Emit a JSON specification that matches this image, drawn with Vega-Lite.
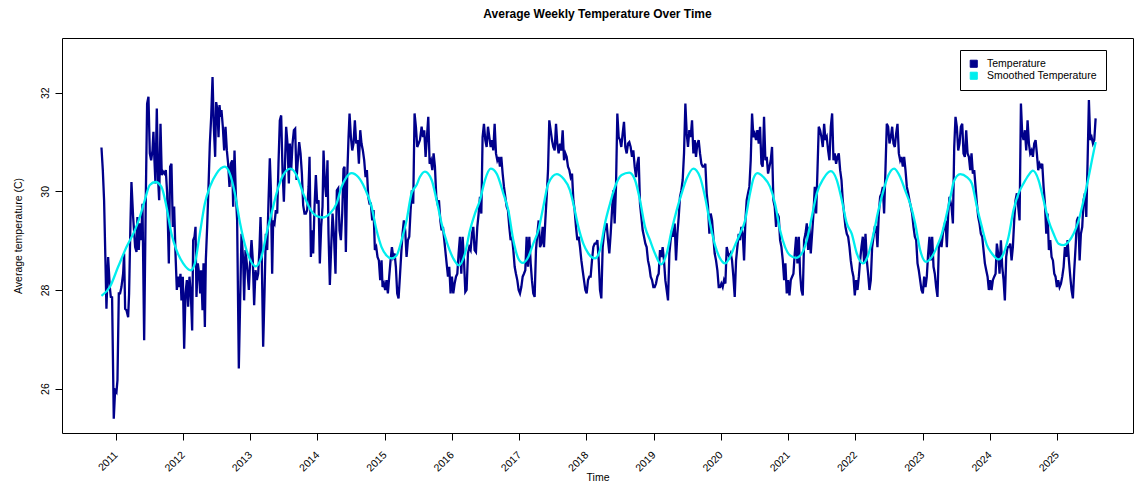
{
"$schema": "https://vega.github.io/schema/vega-lite/v6.json",
"width": 1071, "height": 395,
"autosize": {"type": "none"},
"padding": {"left": 62, "top": 38, "right": 7, "bottom": 49},
"background": "white",
"title": {"text": "Average Weekly Temperature Over Time", "fontSize": 12, "fontWeight": "bold", "font": "Liberation Sans", "anchor": "middle", "offset": 8, "baseline": "alphabetic", "color": "black"},
"config": {
  "view": {"stroke": "black", "strokeWidth": 1},
  "axis": {"domain": false, "grid": false, "ticks": true, "tickColor": "black", "tickSize": 7, "labelFont": "Liberation Sans", "labelFontSize": 10.5, "labelColor": "black", "titleFont": "Liberation Sans", "titleFontSize": 10.5, "titleFontWeight": "normal", "titleColor": "black"}
},
"encoding": {
  "x": {"field": "t", "type": "quantitative", "scale": {"domain": [2010.2, 2026.13], "nice": false, "zero": false},
        "axis": {"title": "Time", "values": [2011,2012,2013,2014,2015,2016,2017,2018,2019,2020,2021,2022,2023,2024,2025], "format": "d", "labelAngle": -45, "labelAlign": "right", "labelBaseline": "middle", "labelPadding": 13, "labelOffset": 0, "titleY": 47, "titleBaseline": "alphabetic"}},
  "y": {"field": "v", "type": "quantitative", "scale": {"domain": [25.1, 33.11], "nice": false, "zero": false},
        "axis": {"title": "Average temperature (C)", "values": [26, 28, 30, 32], "labelAngle": -90, "labelAlign": "center", "labelBaseline": "bottom", "labelPadding": 5, "titleAngle": -90, "titleX": -44, "titleY": 197.5, "titleAlign": "center", "titleBaseline": "middle"}}
},
"layer": [
{
"data": {"values": [
{"t":2010.787,"v":30.89},{"t":2010.807,"v":30.43},{"t":2010.826,"v":29.82},{"t":2010.846,"v":28.60},{"t":2010.861,"v":27.62},{"t":2010.886,"v":28.67},{"t":2010.911,"v":28.06},{"t":2010.926,"v":27.86},{"t":2010.945,"v":27.85},{"t":2010.970,"v":25.39},{"t":2010.990,"v":25.97},{"t":2011.010,"v":25.93},{"t":2011.025,"v":26.17},{"t":2011.045,"v":27.93},{"t":2011.064,"v":27.93},{"t":2011.084,"v":28.06},{"t":2011.109,"v":28.33},{"t":2011.124,"v":28.74},{"t":2011.139,"v":27.62},{"t":2011.159,"v":27.59},{"t":2011.184,"v":27.45},{"t":2011.198,"v":27.93},{"t":2011.218,"v":29.35},{"t":2011.233,"v":30.19},{"t":2011.258,"v":29.48},{"t":2011.288,"v":28.87},{"t":2011.308,"v":28.77},{"t":2011.322,"v":29.48},{"t":2011.342,"v":28.81},{"t":2011.357,"v":29.35},{"t":2011.377,"v":29.01},{"t":2011.397,"v":29.75},{"t":2011.422,"v":26.98},{"t":2011.446,"v":29.82},{"t":2011.466,"v":31.78},{"t":2011.486,"v":31.92},{"t":2011.506,"v":30.77},{"t":2011.526,"v":30.63},{"t":2011.546,"v":30.83},{"t":2011.560,"v":31.21},{"t":2011.575,"v":30.63},{"t":2011.590,"v":30.16},{"t":2011.610,"v":31.68},{"t":2011.630,"v":30.23},{"t":2011.645,"v":29.82},{"t":2011.665,"v":31.37},{"t":2011.684,"v":30.33},{"t":2011.704,"v":30.40},{"t":2011.724,"v":30.36},{"t":2011.744,"v":30.43},{"t":2011.764,"v":29.96},{"t":2011.789,"v":28.54},{"t":2011.808,"v":30.50},{"t":2011.828,"v":30.56},{"t":2011.848,"v":29.28},{"t":2011.868,"v":29.69},{"t":2011.888,"v":28.74},{"t":2011.908,"v":28.00},{"t":2011.927,"v":28.27},{"t":2011.947,"v":28.06},{"t":2011.962,"v":28.33},{"t":2011.977,"v":27.79},{"t":2011.997,"v":28.27},{"t":2012.017,"v":26.81},{"t":2012.037,"v":27.93},{"t":2012.057,"v":28.20},{"t":2012.076,"v":27.66},{"t":2012.096,"v":28.27},{"t":2012.116,"v":27.93},{"t":2012.136,"v":27.18},{"t":2012.151,"v":29.01},{"t":2012.171,"v":29.08},{"t":2012.186,"v":29.28},{"t":2012.200,"v":27.86},{"t":2012.220,"v":28.54},{"t":2012.240,"v":28.33},{"t":2012.255,"v":27.93},{"t":2012.270,"v":28.40},{"t":2012.290,"v":27.59},{"t":2012.305,"v":28.54},{"t":2012.325,"v":27.25},{"t":2012.339,"v":28.60},{"t":2012.359,"v":29.28},{"t":2012.379,"v":30.09},{"t":2012.399,"v":30.97},{"t":2012.419,"v":31.51},{"t":2012.439,"v":32.32},{"t":2012.458,"v":31.31},{"t":2012.478,"v":30.70},{"t":2012.493,"v":31.81},{"t":2012.513,"v":31.65},{"t":2012.528,"v":31.10},{"t":2012.543,"v":31.75},{"t":2012.558,"v":31.51},{"t":2012.572,"v":31.65},{"t":2012.592,"v":31.31},{"t":2012.612,"v":30.83},{"t":2012.632,"v":31.31},{"t":2012.652,"v":30.83},{"t":2012.671,"v":30.56},{"t":2012.691,"v":30.09},{"t":2012.711,"v":30.56},{"t":2012.731,"v":30.63},{"t":2012.746,"v":29.69},{"t":2012.766,"v":30.83},{"t":2012.785,"v":29.96},{"t":2012.805,"v":29.41},{"t":2012.830,"v":26.41},
{"t":2012.870,"v":29.14},{"t":2012.895,"v":28.60},{"t":2012.909,"v":27.79},{"t":2012.929,"v":28.81},{"t":2012.954,"v":28.47},{"t":2012.979,"v":28.00},{"t":2012.999,"v":28.60},{"t":2013.019,"v":29.01},{"t":2013.038,"v":28.60},{"t":2013.058,"v":27.69},{"t":2013.078,"v":28.40},{"t":2013.098,"v":28.20},{"t":2013.118,"v":28.33},{"t":2013.138,"v":28.87},{"t":2013.153,"v":29.48},{"t":2013.172,"v":28.60},{"t":2013.192,"v":26.85},{"t":2013.212,"v":27.93},{"t":2013.232,"v":29.14},{"t":2013.252,"v":28.81},{"t":2013.272,"v":29.82},{"t":2013.291,"v":30.67},{"t":2013.306,"v":30.09},{"t":2013.326,"v":28.33},{"t":2013.341,"v":29.41},{"t":2013.361,"v":29.35},{"t":2013.381,"v":29.62},{"t":2013.401,"v":29.55},{"t":2013.420,"v":30.56},{"t":2013.440,"v":31.44},{"t":2013.460,"v":31.54},{"t":2013.480,"v":30.43},{"t":2013.500,"v":29.79},{"t":2013.520,"v":30.70},{"t":2013.534,"v":31.31},{"t":2013.554,"v":30.97},{"t":2013.574,"v":30.16},{"t":2013.589,"v":30.97},{"t":2013.609,"v":30.43},{"t":2013.629,"v":30.97},{"t":2013.649,"v":31.24},{"t":2013.668,"v":31.27},{"t":2013.688,"v":30.23},{"t":2013.708,"v":30.63},{"t":2013.728,"v":31.00},{"t":2013.748,"v":30.77},{"t":2013.768,"v":30.36},{"t":2013.787,"v":29.72},{"t":2013.807,"v":29.55},{"t":2013.827,"v":29.55},{"t":2013.847,"v":29.62},{"t":2013.867,"v":30.09},{"t":2013.882,"v":30.70},{"t":2013.902,"v":28.67},{"t":2013.921,"v":29.21},{"t":2013.936,"v":28.74},{"t":2013.956,"v":29.69},{"t":2013.976,"v":30.33},{"t":2013.996,"v":29.75},{"t":2014.016,"v":29.82},{"t":2014.035,"v":28.54},{"t":2014.055,"v":29.28},{"t":2014.075,"v":29.69},{"t":2014.090,"v":30.83},{"t":2014.110,"v":30.16},{"t":2014.130,"v":29.89},{"t":2014.149,"v":30.63},{"t":2014.164,"v":29.14},{"t":2014.184,"v":28.10},{"t":2014.204,"v":28.87},{"t":2014.224,"v":29.55},{"t":2014.244,"v":29.14},{"t":2014.268,"v":28.33},{"t":2014.288,"v":30.02},{"t":2014.308,"v":30.06},{"t":2014.328,"v":29.21},{"t":2014.348,"v":29.01},{"t":2014.368,"v":29.55},{"t":2014.387,"v":30.46},{"t":2014.402,"v":30.50},{"t":2014.422,"v":28.77},{"t":2014.442,"v":30.29},{"t":2014.462,"v":31.10},{"t":2014.477,"v":31.58},{"t":2014.497,"v":31.10},{"t":2014.517,"v":30.83},{"t":2014.536,"v":30.97},{"t":2014.556,"v":31.44},{"t":2014.576,"v":30.97},{"t":2014.596,"v":31.04},{"t":2014.616,"v":30.56},{"t":2014.636,"v":31.24},{"t":2014.655,"v":30.97},{"t":2014.675,"v":30.83},{"t":2014.695,"v":30.63},{"t":2014.715,"v":30.29},{"t":2014.735,"v":30.43},{"t":2014.755,"v":29.89},{"t":2014.774,"v":29.75},{"t":2014.794,"v":29.75},{"t":2014.814,"v":29.41},{"t":2014.834,"v":29.62},{"t":2014.854,"v":28.81},{"t":2014.874,"v":28.87},{"t":2014.893,"v":28.67},{"t":2014.913,"v":28.60},{"t":2014.933,"v":28.20},{"t":2014.953,"v":28.60},{"t":2014.968,"v":28.06},{"t":2014.988,"v":28.13},{"t":2015.007,"v":28.00},{"t":2015.027,"v":28.20},{"t":2015.047,"v":27.93},{"t":2015.067,"v":28.27},{"t":2015.087,"v":28.60},{"t":2015.107,"v":28.87},{"t":2015.127,"v":28.67},{"t":2015.147,"v":28.74},{"t":2015.166,"v":28.47},{"t":2015.186,"v":27.93},{"t":2015.206,"v":27.83},{"t":2015.226,"v":28.27},{"t":2015.246,"v":28.74},{"t":2015.265,"v":29.14},{"t":2015.285,"v":29.41},{"t":2015.305,"v":29.21},{"t":2015.325,"v":28.67},{"t":2015.345,"v":29.01},{"t":2015.365,"v":29.08},{"t":2015.385,"v":29.62},{"t":2015.404,"v":30.02},{"t":2015.424,"v":29.75},{"t":2015.444,"v":31.58},{"t":2015.464,"v":31.31},{"t":2015.484,"v":30.90},{"t":2015.504,"v":30.97},
{"t":2015.524,"v":31.04},{"t":2015.549,"v":31.31},{"t":2015.569,"v":31.10},{"t":2015.588,"v":31.24},{"t":2015.608,"v":30.70},{"t":2015.628,"v":31.10},{"t":2015.648,"v":31.51},{"t":2015.668,"v":30.56},{"t":2015.688,"v":30.63},{"t":2015.708,"v":30.43},{"t":2015.727,"v":30.77},{"t":2015.747,"v":30.50},{"t":2015.767,"v":29.89},{"t":2015.787,"v":29.75},{"t":2015.807,"v":29.82},{"t":2015.827,"v":29.41},{"t":2015.846,"v":29.21},{"t":2015.866,"v":29.28},{"t":2015.886,"v":29.01},{"t":2015.906,"v":28.74},{"t":2015.921,"v":28.54},{"t":2015.941,"v":28.27},{"t":2015.960,"v":28.47},{"t":2015.980,"v":27.93},{"t":2016.000,"v":28.27},{"t":2016.020,"v":27.93},{"t":2016.040,"v":28.13},{"t":2016.060,"v":28.27},{"t":2016.080,"v":28.33},{"t":2016.099,"v":28.74},{"t":2016.119,"v":29.08},{"t":2016.139,"v":28.33},{"t":2016.159,"v":29.08},{"t":2016.179,"v":28.60},{"t":2016.199,"v":27.96},{"t":2016.218,"v":28.00},{"t":2016.238,"v":28.74},{"t":2016.258,"v":28.87},{"t":2016.278,"v":28.81},{"t":2016.298,"v":29.14},{"t":2016.318,"v":29.28},{"t":2016.337,"v":28.81},{"t":2016.357,"v":28.77},{"t":2016.377,"v":29.28},{"t":2016.397,"v":29.55},{"t":2016.417,"v":29.89},{"t":2016.437,"v":29.55},{"t":2016.456,"v":31.10},{"t":2016.476,"v":31.37},{"t":2016.496,"v":31.04},{"t":2016.516,"v":30.90},{"t":2016.536,"v":31.31},{"t":2016.556,"v":31.10},{"t":2016.576,"v":30.90},{"t":2016.595,"v":31.04},{"t":2016.615,"v":30.83},{"t":2016.635,"v":31.37},{"t":2016.655,"v":30.77},{"t":2016.675,"v":30.63},{"t":2016.695,"v":30.70},{"t":2016.714,"v":30.50},{"t":2016.734,"v":30.70},{"t":2016.754,"v":30.36},{"t":2016.774,"v":30.09},{"t":2016.794,"v":29.89},{"t":2016.814,"v":29.69},{"t":2016.833,"v":29.62},{"t":2016.853,"v":29.28},{"t":2016.873,"v":29.01},{"t":2016.893,"v":29.08},{"t":2016.913,"v":28.81},{"t":2016.933,"v":28.47},{"t":2016.952,"v":28.33},{"t":2016.972,"v":28.20},{"t":2016.992,"v":28.00},{"t":2017.012,"v":27.93},{"t":2017.032,"v":28.06},{"t":2017.052,"v":28.27},{"t":2017.071,"v":28.33},{"t":2017.091,"v":28.40},{"t":2017.111,"v":29.08},{"t":2017.131,"v":28.47},{"t":2017.151,"v":29.08},{"t":2017.171,"v":28.54},{"t":2017.190,"v":28.20},{"t":2017.210,"v":27.93},{"t":2017.230,"v":27.86},{"t":2017.250,"v":28.81},{"t":2017.270,"v":29.14},{"t":2017.290,"v":29.41},{"t":2017.310,"v":28.87},{"t":2017.329,"v":28.94},{"t":2017.349,"v":29.28},{"t":2017.369,"v":28.87},{"t":2017.389,"v":29.41},{"t":2017.409,"v":29.89},{"t":2017.429,"v":30.43},{"t":2017.448,"v":31.44},{"t":2017.468,"v":31.24},{"t":2017.488,"v":31.04},{"t":2017.508,"v":30.90},{"t":2017.528,"v":30.83},{"t":2017.548,"v":31.37},{"t":2017.567,"v":30.97},{"t":2017.587,"v":30.77},{"t":2017.607,"v":30.97},{"t":2017.627,"v":30.83},{"t":2017.647,"v":31.24},{"t":2017.667,"v":30.63},{"t":2017.687,"v":30.77},{"t":2017.706,"v":30.70},{"t":2017.726,"v":30.50},{"t":2017.746,"v":30.43},{"t":2017.766,"v":30.29},{"t":2017.786,"v":30.36},{"t":2017.806,"v":29.82},{"t":2017.825,"v":29.62},{"t":2017.845,"v":29.28},{"t":2017.865,"v":29.01},{"t":2017.885,"v":29.08},{"t":2017.905,"v":28.87},{"t":2017.925,"v":28.60},{"t":2017.944,"v":28.40},{"t":2017.964,"v":28.20},{"t":2017.984,"v":28.00},{"t":2018.004,"v":27.93},{"t":2018.024,"v":28.20},{"t":2018.044,"v":28.27},{"t":2018.063,"v":28.27},{"t":2018.083,"v":28.60},{"t":2018.103,"v":28.87},{"t":2018.123,"v":28.94},{"t":2018.143,"v":28.94},{"t":2018.163,"v":29.01},{"t":2018.183,"v":28.60},
{"t":2018.202,"v":28.00},{"t":2018.222,"v":27.83},{"t":2018.242,"v":28.87},{"t":2018.262,"v":29.14},{"t":2018.281,"v":29.28},{"t":2018.301,"v":29.35},{"t":2018.321,"v":29.01},{"t":2018.341,"v":28.74},{"t":2018.361,"v":29.14},{"t":2018.381,"v":29.62},{"t":2018.400,"v":30.02},{"t":2018.420,"v":29.35},{"t":2018.440,"v":30.09},{"t":2018.460,"v":31.58},{"t":2018.480,"v":31.10},{"t":2018.500,"v":31.04},{"t":2018.519,"v":30.90},{"t":2018.539,"v":31.17},{"t":2018.559,"v":31.41},{"t":2018.579,"v":30.90},{"t":2018.599,"v":30.77},{"t":2018.619,"v":30.97},{"t":2018.638,"v":31.00},{"t":2018.658,"v":30.90},{"t":2018.678,"v":30.70},{"t":2018.698,"v":30.83},{"t":2018.718,"v":30.50},{"t":2018.738,"v":30.29},{"t":2018.757,"v":30.56},{"t":2018.777,"v":30.70},{"t":2018.797,"v":29.75},{"t":2018.817,"v":29.48},{"t":2018.837,"v":29.21},{"t":2018.857,"v":29.08},{"t":2018.877,"v":28.94},{"t":2018.896,"v":28.87},{"t":2018.916,"v":28.60},{"t":2018.936,"v":28.47},{"t":2018.956,"v":28.27},{"t":2018.976,"v":28.20},{"t":2018.996,"v":28.06},{"t":2019.015,"v":28.06},{"t":2019.035,"v":28.13},{"t":2019.055,"v":28.27},{"t":2019.075,"v":28.33},{"t":2019.095,"v":28.81},{"t":2019.115,"v":28.67},{"t":2019.134,"v":28.87},{"t":2019.154,"v":28.60},{"t":2019.174,"v":28.20},{"t":2019.194,"v":28.00},{"t":2019.214,"v":27.79},{"t":2019.234,"v":28.74},{"t":2019.253,"v":29.01},{"t":2019.273,"v":29.21},{"t":2019.293,"v":29.08},{"t":2019.313,"v":29.35},{"t":2019.333,"v":28.60},{"t":2019.353,"v":29.14},{"t":2019.373,"v":29.48},{"t":2019.392,"v":29.89},{"t":2019.412,"v":30.02},{"t":2019.432,"v":30.23},{"t":2019.452,"v":30.77},{"t":2019.472,"v":31.78},{"t":2019.492,"v":31.17},{"t":2019.511,"v":30.90},{"t":2019.531,"v":31.24},{"t":2019.551,"v":31.10},{"t":2019.571,"v":31.44},{"t":2019.591,"v":30.77},{"t":2019.611,"v":31.04},{"t":2019.630,"v":30.70},{"t":2019.650,"v":30.97},{"t":2019.670,"v":31.04},{"t":2019.690,"v":30.77},{"t":2019.710,"v":30.56},{"t":2019.730,"v":30.50},{"t":2019.750,"v":30.50},{"t":2019.769,"v":30.56},{"t":2019.789,"v":29.96},{"t":2019.809,"v":29.69},{"t":2019.829,"v":29.14},{"t":2019.849,"v":29.55},{"t":2019.869,"v":29.41},{"t":2019.888,"v":29.08},{"t":2019.908,"v":28.74},{"t":2019.928,"v":28.60},{"t":2019.948,"v":28.40},{"t":2019.968,"v":28.06},{"t":2019.988,"v":28.06},{"t":2020.007,"v":28.13},{"t":2020.027,"v":28.06},{"t":2020.047,"v":28.20},{"t":2020.067,"v":28.13},{"t":2020.087,"v":28.87},{"t":2020.107,"v":28.74},{"t":2020.126,"v":28.67},{"t":2020.146,"v":28.74},{"t":2020.166,"v":28.60},{"t":2020.186,"v":28.27},{"t":2020.206,"v":27.86},{"t":2020.226,"v":28.60},{"t":2020.245,"v":28.87},{"t":2020.265,"v":29.14},{"t":2020.285,"v":29.01},{"t":2020.305,"v":29.28},{"t":2020.325,"v":29.14},{"t":2020.345,"v":28.60},{"t":2020.365,"v":29.41},{"t":2020.384,"v":29.82},{"t":2020.404,"v":29.96},{"t":2020.424,"v":30.09},{"t":2020.444,"v":30.63},{"t":2020.464,"v":31.58},{"t":2020.484,"v":31.10},{"t":2020.503,"v":31.17},{"t":2020.523,"v":31.04},{"t":2020.543,"v":31.24},{"t":2020.563,"v":30.97},{"t":2020.583,"v":31.31},{"t":2020.603,"v":30.56},{"t":2020.622,"v":30.50},{"t":2020.642,"v":31.51},{"t":2020.662,"v":30.63},{"t":2020.682,"v":30.70},{"t":2020.702,"v":30.36},{"t":2020.722,"v":30.50},{"t":2020.742,"v":30.63},{"t":2020.761,"v":30.90},{"t":2020.781,"v":29.82},{"t":2020.801,"v":29.69},{"t":2020.821,"v":29.28},{"t":2020.841,"v":29.55},{"t":2020.861,"v":29.48},
{"t":2020.881,"v":29.01},{"t":2020.901,"v":28.87},{"t":2020.921,"v":28.60},{"t":2020.941,"v":28.20},{"t":2020.960,"v":28.54},{"t":2020.980,"v":27.93},{"t":2021.000,"v":28.20},{"t":2021.020,"v":27.89},{"t":2021.040,"v":28.20},{"t":2021.060,"v":28.27},{"t":2021.079,"v":28.33},{"t":2021.099,"v":28.74},{"t":2021.119,"v":29.08},{"t":2021.139,"v":28.54},{"t":2021.159,"v":29.08},{"t":2021.179,"v":28.33},{"t":2021.198,"v":28.00},{"t":2021.218,"v":27.89},{"t":2021.238,"v":29.01},{"t":2021.258,"v":29.14},{"t":2021.278,"v":29.35},{"t":2021.298,"v":28.81},{"t":2021.317,"v":29.28},{"t":2021.337,"v":28.74},{"t":2021.357,"v":29.14},{"t":2021.377,"v":29.55},{"t":2021.397,"v":30.09},{"t":2021.417,"v":29.55},{"t":2021.437,"v":30.43},{"t":2021.456,"v":31.31},{"t":2021.476,"v":31.24},{"t":2021.496,"v":31.10},{"t":2021.516,"v":30.90},{"t":2021.536,"v":31.37},{"t":2021.556,"v":31.04},{"t":2021.575,"v":31.10},{"t":2021.595,"v":30.83},{"t":2021.615,"v":30.63},{"t":2021.635,"v":31.31},{"t":2021.655,"v":31.58},{"t":2021.675,"v":30.63},{"t":2021.694,"v":30.77},{"t":2021.714,"v":30.56},{"t":2021.734,"v":30.70},{"t":2021.754,"v":30.77},{"t":2021.774,"v":30.43},{"t":2021.794,"v":30.23},{"t":2021.813,"v":29.82},{"t":2021.833,"v":29.55},{"t":2021.853,"v":29.28},{"t":2021.873,"v":29.14},{"t":2021.893,"v":29.08},{"t":2021.913,"v":28.87},{"t":2021.932,"v":28.60},{"t":2021.952,"v":28.40},{"t":2021.972,"v":28.27},{"t":2021.992,"v":27.89},{"t":2022.012,"v":28.20},{"t":2022.032,"v":28.00},{"t":2022.052,"v":28.27},{"t":2022.071,"v":28.60},{"t":2022.091,"v":28.87},{"t":2022.111,"v":29.08},{"t":2022.131,"v":28.54},{"t":2022.151,"v":29.14},{"t":2022.171,"v":28.60},{"t":2022.190,"v":28.33},{"t":2022.210,"v":28.00},{"t":2022.230,"v":28.20},{"t":2022.250,"v":28.87},{"t":2022.270,"v":29.08},{"t":2022.290,"v":29.28},{"t":2022.309,"v":29.28},{"t":2022.329,"v":28.87},{"t":2022.349,"v":29.55},{"t":2022.369,"v":29.89},{"t":2022.389,"v":29.96},{"t":2022.409,"v":30.09},{"t":2022.428,"v":29.55},{"t":2022.448,"v":30.43},{"t":2022.468,"v":31.37},{"t":2022.488,"v":31.31},{"t":2022.508,"v":30.97},{"t":2022.528,"v":31.10},{"t":2022.548,"v":31.31},{"t":2022.567,"v":30.97},{"t":2022.587,"v":30.90},{"t":2022.607,"v":31.17},{"t":2022.627,"v":31.37},{"t":2022.647,"v":30.77},{"t":2022.667,"v":30.63},{"t":2022.686,"v":30.70},{"t":2022.706,"v":30.50},{"t":2022.726,"v":30.70},{"t":2022.746,"v":30.43},{"t":2022.766,"v":30.09},{"t":2022.786,"v":29.96},{"t":2022.805,"v":29.82},{"t":2022.825,"v":29.69},{"t":2022.845,"v":29.55},{"t":2022.865,"v":29.28},{"t":2022.885,"v":29.08},{"t":2022.905,"v":29.01},{"t":2022.925,"v":28.54},{"t":2022.944,"v":28.40},{"t":2022.964,"v":28.20},{"t":2022.984,"v":28.00},{"t":2023.004,"v":27.93},{"t":2023.024,"v":28.27},{"t":2023.044,"v":28.06},{"t":2023.063,"v":28.27},{"t":2023.083,"v":28.74},{"t":2023.103,"v":29.08},{"t":2023.123,"v":28.60},{"t":2023.143,"v":29.08},{"t":2023.163,"v":28.47},{"t":2023.182,"v":28.33},{"t":2023.202,"v":28.06},{"t":2023.222,"v":27.86},{"t":2023.242,"v":28.87},{"t":2023.262,"v":29.01},{"t":2023.282,"v":28.87},{"t":2023.301,"v":29.14},{"t":2023.321,"v":29.28},{"t":2023.341,"v":29.41},{"t":2023.361,"v":28.87},{"t":2023.381,"v":29.55},{"t":2023.401,"v":29.89},
{"t":2023.431,"v":29.69},{"t":2023.451,"v":29.35},{"t":2023.471,"v":30.90},{"t":2023.490,"v":31.51},{"t":2023.510,"v":31.31},{"t":2023.530,"v":30.83},{"t":2023.550,"v":30.97},{"t":2023.570,"v":31.31},{"t":2023.590,"v":31.37},{"t":2023.609,"v":30.77},{"t":2023.629,"v":30.70},{"t":2023.649,"v":31.24},{"t":2023.669,"v":30.77},{"t":2023.689,"v":30.70},{"t":2023.709,"v":30.43},{"t":2023.728,"v":30.77},{"t":2023.748,"v":30.36},{"t":2023.768,"v":30.43},{"t":2023.788,"v":30.09},{"t":2023.808,"v":29.75},{"t":2023.828,"v":29.48},{"t":2023.847,"v":29.35},{"t":2023.867,"v":29.14},{"t":2023.887,"v":29.08},{"t":2023.907,"v":28.81},{"t":2023.927,"v":28.54},{"t":2023.947,"v":28.40},{"t":2023.967,"v":28.27},{"t":2023.986,"v":28.00},{"t":2024.006,"v":28.20},{"t":2024.026,"v":28.00},{"t":2024.046,"v":28.20},{"t":2024.066,"v":28.27},{"t":2024.086,"v":28.33},{"t":2024.105,"v":28.94},{"t":2024.125,"v":28.74},{"t":2024.145,"v":28.33},{"t":2024.165,"v":29.01},{"t":2024.185,"v":28.47},{"t":2024.205,"v":28.20},{"t":2024.224,"v":27.79},{"t":2024.244,"v":28.67},{"t":2024.264,"v":28.87},{"t":2024.284,"v":28.87},{"t":2024.304,"v":28.94},{"t":2024.324,"v":28.60},{"t":2024.343,"v":28.87},{"t":2024.363,"v":29.41},{"t":2024.383,"v":29.82},{"t":2024.403,"v":29.96},{"t":2024.423,"v":29.69},{"t":2024.443,"v":29.41},{"t":2024.463,"v":31.78},{"t":2024.482,"v":31.17},{"t":2024.502,"v":31.04},{"t":2024.522,"v":31.24},{"t":2024.542,"v":30.83},{"t":2024.562,"v":31.44},{"t":2024.582,"v":30.97},{"t":2024.601,"v":30.77},{"t":2024.621,"v":30.83},{"t":2024.641,"v":30.70},{"t":2024.661,"v":30.97},{"t":2024.681,"v":31.04},{"t":2024.700,"v":30.77},{"t":2024.720,"v":30.43},{"t":2024.740,"v":30.56},{"t":2024.760,"v":30.50},{"t":2024.780,"v":30.56},{"t":2024.800,"v":30.09},{"t":2024.820,"v":29.75},{"t":2024.840,"v":29.14},{"t":2024.859,"v":29.55},{"t":2024.879,"v":28.81},{"t":2024.899,"v":29.01},{"t":2024.919,"v":28.67},{"t":2024.939,"v":28.60},{"t":2024.959,"v":28.33},{"t":2024.978,"v":28.27},{"t":2024.998,"v":28.06},{"t":2025.018,"v":28.20},{"t":2025.038,"v":28.06},{"t":2025.058,"v":28.13},{"t":2025.078,"v":28.27},{"t":2025.098,"v":28.47},{"t":2025.117,"v":28.87},{"t":2025.137,"v":28.67},{"t":2025.157,"v":29.01},{"t":2025.177,"v":28.60},{"t":2025.197,"v":28.27},{"t":2025.216,"v":28.00},{"t":2025.236,"v":27.83},{"t":2025.256,"v":28.40},{"t":2025.276,"v":28.87},{"t":2025.296,"v":29.41},{"t":2025.316,"v":29.48},{"t":2025.336,"v":28.60},{"t":2025.355,"v":29.14},{"t":2025.375,"v":29.28},{"t":2025.395,"v":29.82},{"t":2025.415,"v":29.96},{"t":2025.435,"v":29.48},{"t":2025.455,"v":30.63},{"t":2025.474,"v":31.85},{"t":2025.494,"v":31.04},{"t":2025.514,"v":31.10},{"t":2025.534,"v":30.97},{"t":2025.554,"v":31.04},{"t":2025.574,"v":31.48}
]},
"mark": {"type": "line", "strokeWidth": 2.3, "interpolate": "linear"},
"encoding": {
  "color": {"datum": "Temperature", "type": "nominal",
    "scale": {"domain": ["Temperature", "Smoothed Temperature"], "range": ["#00008B", "#00EEEE"]},
    "legend": {"orient": "none", "legendX": 898, "legendY": 12, "title": null, "strokeColor": "black", "fillColor": "white", "padding": 8.5, "cornerRadius": 0, "symbolType": "square", "symbolSize": 50, "symbolStrokeWidth": 1, "symbolStrokeColor": "black", "labelFont": "Liberation Sans", "labelFontSize": 10.5, "labelColor": "black", "labelOffset": 8, "rowPadding": 0,
      "encode": {"symbols": {"update": {"fill": {"scale": "color", "field": "value"}, "stroke": {"value": "black"}, "strokeWidth": {"value": 1}, "opacity": {"value": 1}}}}}
  }
}
},
{
"data": {"values": [
{"t":2010.787,"v":27.88},{"t":2010.911,"v":28.06},{"t":2011.035,"v":28.47},{"t":2011.159,"v":28.87},{"t":2011.283,"v":29.21},{"t":2011.357,"v":29.48},{"t":2011.431,"v":29.82},{"t":2011.506,"v":30.13},{"t":2011.590,"v":30.19},{"t":2011.679,"v":30.09},{"t":2011.754,"v":29.69},{"t":2011.828,"v":29.14},{"t":2011.903,"v":28.81},{"t":2012.002,"v":28.54},{"t":2012.116,"v":28.40},{"t":2012.176,"v":28.54},{"t":2012.250,"v":29.14},{"t":2012.324,"v":29.75},{"t":2012.399,"v":30.09},{"t":2012.498,"v":30.36},{"t":2012.622,"v":30.50},{"t":2012.696,"v":30.36},{"t":2012.771,"v":29.96},{"t":2012.845,"v":29.38},{"t":2012.944,"v":28.81},{"t":2013.083,"v":28.48},{"t":2013.167,"v":28.67},{"t":2013.242,"v":29.14},{"t":2013.316,"v":29.55},{"t":2013.391,"v":29.96},{"t":2013.490,"v":30.33},{"t":2013.599,"v":30.46},{"t":2013.688,"v":30.33},{"t":2013.787,"v":29.96},{"t":2013.887,"v":29.65},{"t":2013.986,"v":29.50},{"t":2014.085,"v":29.47},{"t":2014.184,"v":29.55},{"t":2014.283,"v":29.75},{"t":2014.358,"v":30.09},{"t":2014.432,"v":30.29},{"t":2014.507,"v":30.37},{"t":2014.606,"v":30.29},{"t":2014.705,"v":30.06},{"t":2014.804,"v":29.69},{"t":2014.879,"v":29.21},{"t":2014.953,"v":28.87},{"t":2015.027,"v":28.70},{"t":2015.102,"v":28.64},{"t":2015.176,"v":28.70},{"t":2015.251,"v":29.01},{"t":2015.325,"v":29.41},{"t":2015.399,"v":29.96},{"t":2015.474,"v":30.13},{"t":2015.523,"v":30.29},{"t":2015.598,"v":30.40},{"t":2015.698,"v":30.23},{"t":2015.772,"v":29.82},{"t":2015.846,"v":29.35},{"t":2015.921,"v":28.98},{"t":2016.020,"v":28.64},{"t":2016.104,"v":28.50},{"t":2016.194,"v":28.74},{"t":2016.268,"v":29.21},{"t":2016.342,"v":29.55},{"t":2016.417,"v":29.82},{"t":2016.491,"v":30.23},{"t":2016.576,"v":30.46},{"t":2016.665,"v":30.36},{"t":2016.764,"v":29.96},{"t":2016.838,"v":29.62},{"t":2016.913,"v":29.01},{"t":2016.987,"v":28.64},{"t":2017.052,"v":28.55},{"t":2017.136,"v":28.67},{"t":2017.210,"v":28.94},{"t":2017.285,"v":29.21},{"t":2017.359,"v":29.69},{"t":2017.434,"v":30.16},{"t":2017.558,"v":30.35},{"t":2017.657,"v":30.26},{"t":2017.756,"v":30.02},{"t":2017.806,"v":29.75},{"t":2017.880,"v":29.28},{"t":2017.954,"v":28.94},{"t":2018.029,"v":28.74},{"t":2018.128,"v":28.64},{"t":2018.202,"v":28.81},{"t":2018.276,"v":29.35},{"t":2018.351,"v":29.75},{"t":2018.425,"v":30.09},{"t":2018.524,"v":30.33},{"t":2018.638,"v":30.38},{"t":2018.723,"v":30.23},{"t":2018.797,"v":29.82},{"t":2018.872,"v":29.28},{"t":2018.946,"v":29.01},{"t":2019.020,"v":28.74},{"t":2019.110,"v":28.52},{"t":2019.194,"v":28.74},{"t":2019.268,"v":29.21},{"t":2019.343,"v":29.62},{"t":2019.417,"v":29.96},{"t":2019.492,"v":30.26},{"t":2019.591,"v":30.46},{"t":2019.690,"v":30.29},{"t":2019.764,"v":29.89},{"t":2019.839,"v":29.35},{"t":2019.913,"v":28.91},{"t":2019.988,"v":28.64},{"t":2020.062,"v":28.54},{"t":2020.136,"v":28.67},{"t":2020.211,"v":28.91},{"t":2020.285,"v":29.14},{"t":2020.360,"v":29.41},{"t":2020.434,"v":29.96},{"t":2020.484,"v":30.26},{"t":2020.543,"v":30.37},{"t":2020.632,"v":30.29},{"t":2020.732,"v":30.09},{"t":2020.806,"v":29.75},{"t":2020.881,"v":29.21},{"t":2020.955,"v":28.87},{"t":2021.030,"v":28.70},{"t":2021.119,"v":28.65},{"t":2021.203,"v":28.74},{"t":2021.278,"v":29.01},{"t":2021.352,"v":29.48},{"t":2021.427,"v":29.96},{"t":2021.526,"v":30.26},{"t":2021.635,"v":30.41},{"t":2021.724,"v":30.23},{"t":2021.799,"v":29.82},{"t":2021.873,"v":29.35},{"t":2021.947,"v":29.14},{"t":2022.022,"v":28.74},{"t":2022.111,"v":28.54},{"t":2022.181,"v":28.67},{"t":2022.270,"v":29.14},{"t":2022.344,"v":29.62},{"t":2022.419,"v":30.02},{"t":2022.493,"v":30.33},{"t":2022.577,"v":30.46},{"t":2022.667,"v":30.29},{"t":2022.741,"v":30.02},{"t":2022.815,"v":29.75},{"t":2022.890,"v":29.35},{"t":2022.964,"v":28.81},{"t":2023.053,"v":28.57},{"t":2023.138,"v":28.67},{"t":2023.212,"v":28.87},{"t":2023.287,"v":29.14},{"t":2023.361,"v":29.55},{"t":2023.435,"v":30.02},{"t":2023.461,"v":30.19},{"t":2023.560,"v":30.35},{"t":2023.659,"v":30.29},{"t":2023.733,"v":30.16},{"t":2023.808,"v":29.69},{"t":2023.882,"v":29.28},{"t":2023.957,"v":28.91},{"t":2024.031,"v":28.74},{"t":2024.130,"v":28.62},{"t":2024.205,"v":28.74},{"t":2024.279,"v":29.08},{"t":2024.353,"v":29.62},{"t":2024.428,"v":29.96},{"t":2024.502,"v":30.16},{"t":2024.577,"v":30.33},{"t":2024.641,"v":30.42},{"t":2024.725,"v":30.23},{"t":2024.800,"v":29.82},{"t":2024.874,"v":29.41},{"t":2024.949,"v":29.14},{"t":2025.023,"v":28.94},{"t":2025.098,"v":28.91},{"t":2025.172,"v":28.98},{"t":2025.246,"v":29.14},{"t":2025.321,"v":29.41},{"t":2025.395,"v":29.82},{"t":2025.470,"v":30.29},{"t":2025.519,"v":30.63},{"t":2025.574,"v":31.00}
]},
"mark": {"type": "line", "strokeWidth": 2.3, "interpolate": "monotone"},
"encoding": {
  "color": {"datum": "Smoothed Temperature", "type": "nominal"}
}
}
]
}
